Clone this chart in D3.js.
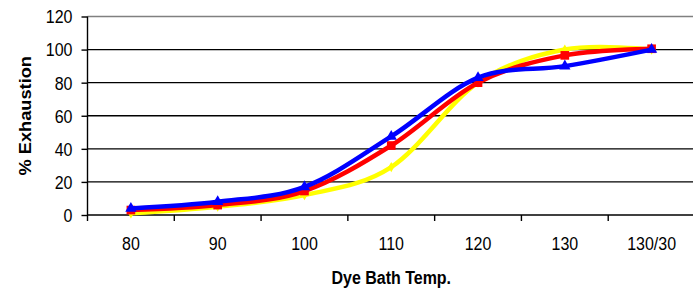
<!DOCTYPE html>
<html><head><meta charset="utf-8">
<script src="https://cdn.jsdelivr.net/npm/d3@7"></script>
<style>body{margin:0;background:#fff;}svg{display:block;font-family:Arial,"Liberation Sans",sans-serif;}</style>
</head><body><svg id="c" width="693" height="288"></svg>
<script>
const categories = ["80","90","100","110","120","130","130/30"];
const yellowValues = [1, 5, 12, 29, 80, 100, 100];
const redValues = [3, 6, 14.5, 42, 80, 96.5, 100.5];
const blueValues = [4, 8, 17, 47.5, 83, 90, 100];
const yTicks = [0, 20, 40, 60, 80, 100, 120];
const xTitle = "Dye Bath Temp.";
const yTitle = "% Exhaustion";

const W = 693, H = 288;
const L = 87.5, R = 695, T = 16.5, B = 215;
const SY = 1.14;
const svg = d3.select("#c");
const x = d3.scaleBand().domain(categories).range([L, R]).padding(0);
const y = d3.scaleLinear().domain([0, 120]).range([B, T]);
const cx = c => x(c) + x.bandwidth() / 2;

// gridlines
svg.append("g").selectAll("line").data(yTicks.filter(v => v > 0)).join("line")
  .attr("x1", L).attr("x2", W).attr("y1", d => y(d)).attr("y2", d => y(d))
  .attr("stroke", d => d === 120 ? "#808080" : "#000").attr("stroke-width", 1.4);

// y axis
const ya = svg.append("g").attr("transform", `translate(${L},0)`)
  .call(d3.axisLeft(y).tickValues(yTicks).tickSize(6).tickPadding(9).tickFormat(d3.format("d")));
ya.select(".domain").remove();
ya.selectAll("line").attr("stroke", "#000").attr("stroke-width", 1.4);
ya.selectAll("text").attr("font-size", 16).attr("fill", "#000")
  .attr("font-family", "Arial, 'Liberation Sans', sans-serif")
  .attr("dy", "0.35em").attr("transform", `scale(1,${SY})`);
svg.append("line").attr("x1", L).attr("x2", L).attr("y1", T).attr("y2", B + 6)
  .attr("stroke", "#000").attr("stroke-width", 1.4);

// x axis
const xa = svg.append("g").attr("transform", `translate(0,${B})`)
  .call(d3.axisBottom(x).tickSize(0).tickPadding(0));
xa.select(".domain").remove();
xa.selectAll("text").attr("font-size", 16).attr("fill", "#000")
  .attr("font-family", "Arial, 'Liberation Sans', sans-serif")
  .attr("y", 0).attr("dy", "0.35em").attr("transform", `translate(0,29) scale(1,${SY})`);
svg.append("line").attr("x1", L).attr("x2", W).attr("y1", B).attr("y2", B)
  .attr("stroke", "#000").attr("stroke-width", 1.4);
svg.append("g").selectAll("line").data(categories.slice(1)).join("line")
  .attr("x1", d => x(d)).attr("x2", d => x(d)).attr("y1", B).attr("y2", B + 6)
  .attr("stroke", "#000").attr("stroke-width", 1.4);

// titles
svg.append("text").attr("transform", `translate(${(L + R) / 2},277.5) scale(1,${SY})`)
  .attr("text-anchor", "middle").attr("dy", "0.35em")
  .attr("font-size", 16).attr("font-weight", "bold").text(xTitle);
svg.append("text").attr("transform", `translate(25,${(T + B) / 2}) rotate(-90) scale(${SY},1)`)
  .attr("text-anchor", "middle").attr("dy", "0.35em")
  .attr("font-size", 16).attr("font-weight", "bold").text(yTitle);

const line = d3.line().x((d, i) => cx(categories[i])).y(d => y(d)).curve(d3.curveCardinal.tension(0));
const series = [
  {vals: yellowValues, color: "#FFFF00", marker: d3.symbolDiamond, size: 30},
  {vals: redValues, color: "#FF0000", marker: d3.symbolSquare, size: 75},
  {vals: blueValues, color: "#0000FF", marker: d3.symbolTriangle, size: 55}
];
series.forEach(s => {
  svg.append("path").datum(s.vals).attr("d", line).attr("fill", "none")
    .attr("stroke", s.color).attr("stroke-width", 4.5).attr("stroke-linejoin", "round");
  svg.append("g").selectAll("path").data(s.vals).join("path")
    .attr("transform", (d, i) => `translate(${cx(categories[i])},${y(d)})`)
    .attr("d", d3.symbol().type(s.marker).size(s.size)).attr("fill", s.color);
});
</script></body></html>
